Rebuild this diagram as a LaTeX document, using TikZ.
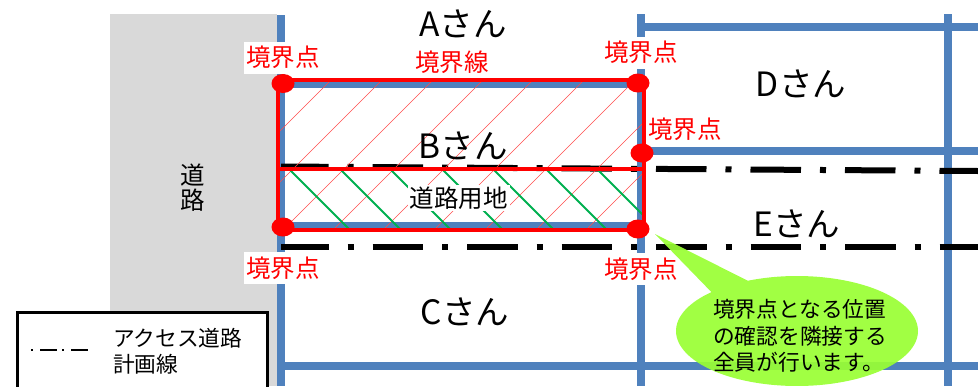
\documentclass[tikz,border=0pt]{standalone}
\usepackage{fontspec}
\setmainfont{Noto Sans CJK JP}
\tikzset{
  x=1pt,y=-1pt,
  blueline/.style={draw=myblue,line width=8pt},
  dashline/.style={draw=black,line width=6pt,dash pattern=on 50.5pt off 19pt on 6pt off 19pt},
  redline/.style={draw=red,line width=3.5pt},
  hatchred/.style={draw=red!70,line width=0.5pt},
  hatchgreen/.style={draw=mygreen,line width=2pt},
  dot/.style={fill=red,draw=none,ellipse,minimum width=23pt,minimum height=19pt,inner sep=0pt},
  owner/.style={inner sep=0pt,font=\fontsize{33.5}{36}\selectfont},
  redlabel/.style={text=red,fill=white,inner sep=1.5pt,minimum width=78pt,minimum height=32pt,font=\fontsize{24.5}{28}\selectfont},
  plainlabel/.style={inner sep=0pt,font=\fontsize{24.5}{28}\selectfont},
  smalltext/.style={inner sep=0pt,align=left,font=\fontsize{21.7}{26.5}\selectfont},
}
\definecolor{myblue}{HTML}{4F81BD}
\definecolor{myroad}{HTML}{D9D9D9}
\definecolor{mygreen}{HTML}{00B050}
\definecolor{mycall}{HTML}{99FF33}
\usetikzlibrary{shapes.geometric}
\begin{document}
\begin{tikzpicture}
\useasboundingbox (0,0) rectangle (978,386);
\fill[myroad] (110,14) rectangle (277,386);
% blue lot lines
\draw[blueline] (281,15) -- (281,386);
\draw[blueline] (640.5,14) -- (640.5,386);
\draw[blueline] (948,14) -- (948,386);
\draw[blueline] (640,27) -- (978,27);
\draw[blueline] (640,151) -- (978,151);
\draw[blueline] (281,366) -- (978,366);
\draw[blueline] (281,84) -- (640,84);
\draw[blueline] (281,226) -- (640,226);
% access road plan lines
\draw[dashline,dash phase=3pt] (281,166.5) -- (978,171);
\draw[dashline,dash phase=3pt] (281,247) -- (978,247);
% hatching
\begin{scope}
\clip (278,80) rectangle (644,230);
\foreach \s in {411,462,513,563,613,664,715,766,816,867}
  \draw[hatchred] (\s-80,80) -- (\s-230,230);
\foreach \s in {290,341,391,443,494,547,598}
  \draw[hatchgreen] (\s,170) -- (\s+60,230);
\end{scope}
% boundary
\draw[redline] (278,80) rectangle (644,230);
\draw[redline] (278,169) -- (644,169);
% labels
\node[redlabel] (l1) at (283,57.5) {境界点};
\node[redlabel] (l2) at (641,52.5) {境界点};
\node[redlabel,minimum width=74pt,minimum height=28pt] (l3) at (685,129.5) {境界点};
\node[redlabel] (l4) at (283,268) {境界点};
\node[redlabel] (l5) at (641,269) {境界点};
\node[redlabel,minimum height=26pt,fill=none] (l6) at (452,62) {境界線};
\node[dot] (p1) at (283,83.5) {};
\node[dot] (p2) at (638,83) {};
\node[dot] (p3) at (642,153) {};
\node[dot] (p4) at (283,227) {};
\node[dot] (p5) at (638,229) {};
\node[owner] (a) at (463,24) {Aさん};
\node[owner] (b) at (463,146) {Bさん};
\node[owner] (c) at (465,312) {Cさん};
\node[owner] (d) at (801,84) {Dさん};
\node[owner] (e) at (797,224) {Eさん};
\node[plainlabel,fill=white,inner sep=2pt] (yoto) at (458.5,198) {道路用地};
\node[plainlabel] (road1) at (193,175) {道};
\node[plainlabel] (road2) at (193,200) {路};
% callout
\fill[mycall,fill opacity=0.92] (655,234) -- plot[domain=-114:225,samples=120,smooth] ({797+121*cos(\x)},{331+55*sin(\x)}) -- cycle;
\node[smalltext,anchor=west] (calltext) at (713,336) {境界点となる位置\\の確認を隣接する\\全員が行います。};
% legend
\draw[draw=black,line width=3pt,fill=white] (17,312) rectangle (267,400);
\draw[black,line width=2pt,dash pattern=on 2pt off 7pt on 17pt off 5pt] (31,350) -- (90,350);
\node[smalltext,anchor=west] (legtext) at (113,351) {アクセス道路\\計画線};
\end{tikzpicture}
\end{document}
